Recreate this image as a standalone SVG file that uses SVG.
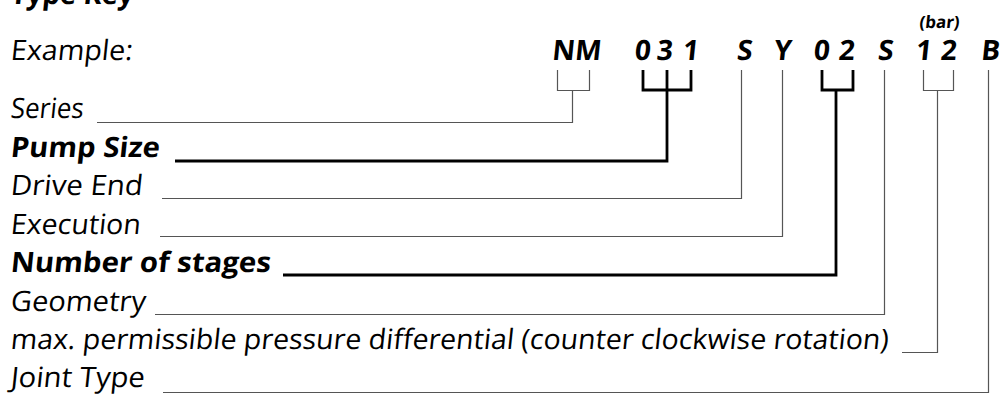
<svg xmlns="http://www.w3.org/2000/svg" width="1001" height="394" viewBox="0 0 1001 394">
<style>
text { font-family: "Open Sans", "Liberation Sans", sans-serif; font-size: 28px; fill: #000; }
.b { font-weight: bold; }
.code { font-weight: bold; text-anchor: middle; }
.unit { font-weight: bold; font-size: 17px; text-anchor: middle; }
.thin { fill: none; stroke: #555; stroke-width: 1.2; }
.thick { fill: none; stroke: #000; stroke-width: 2.8; }
</style>
<rect width="1001" height="394" fill="#fff"/>
<g id="title" transform="translate(10,4) skewX(-6)"><text class="b" textLength="123" lengthAdjust="spacingAndGlyphs">Type Key</text></g>
<g id="example" transform="translate(10,60) skewX(-6)"><text textLength="122" lengthAdjust="spacingAndGlyphs">Example:</text></g>
<g id="code">
  <g transform="translate(0,60) skewX(-6)">
    <text class="code" x="576">NM</text>
    <text class="code" x="642">0</text>
    <text class="code" x="664">3</text>
    <text class="code" x="690">1</text>
    <text class="code" x="744">S</text>
    <text class="code" x="782">Y</text>
    <text class="code" x="821">0</text>
    <text class="code" x="846">2</text>
    <text class="code" x="885">S</text>
    <text class="code" x="923">1</text>
    <text class="code" x="948">2</text>
    <text class="code" x="990">B</text>
  </g>
  <g transform="translate(939,28) skewX(-6)"><text class="unit">(bar)</text></g>
</g>
<g id="series" transform="translate(10,118) skewX(-6)"><text textLength="73" lengthAdjust="spacingAndGlyphs">Series</text></g>
<g id="pump-size" transform="translate(10,157) skewX(-6)"><text class="b" textLength="149" lengthAdjust="spacingAndGlyphs">Pump Size</text></g>
<g id="drive-end" transform="translate(10,195) skewX(-6)"><text textLength="132" lengthAdjust="spacingAndGlyphs">Drive End</text></g>
<g id="execution" transform="translate(10,234) skewX(-6)"><text textLength="130" lengthAdjust="spacingAndGlyphs">Execution</text></g>
<g id="stages" transform="translate(10,272) skewX(-6)"><text class="b" textLength="260" lengthAdjust="spacingAndGlyphs">Number of stages</text></g>
<g id="geometry" transform="translate(10,311) skewX(-6)"><text textLength="135" lengthAdjust="spacingAndGlyphs">Geometry</text></g>
<g id="pressure" transform="translate(10,349) skewX(-6)"><text textLength="878" lengthAdjust="spacingAndGlyphs">max. permissible pressure differential (counter clockwise rotation)</text></g>
<g id="joint-type" transform="translate(10,387) skewX(-6)"><text textLength="134" lengthAdjust="spacingAndGlyphs">Joint Type</text></g>
<g id="connectors">
  <path class="thin" d="M97,122.5 H572.5 V90.5"/>
  <path class="thin" d="M557.5,70 V90.5 H589.5 V70"/>
  <path class="thick" d="M175,161 H667 V70"/>
  <path class="thick" d="M643,70 V90 H691 V70"/>
  <path class="thin" d="M162,198.5 H741.5 V70"/>
  <path class="thin" d="M160,236.5 H782.5 V70"/>
  <path class="thick" d="M283,275 H836 V90"/>
  <path class="thick" d="M822,70 V90 H853 V70"/>
  <path class="thin" d="M155,314.5 H884.5 V70"/>
  <path class="thin" d="M902,352.5 H937.5 V90.5"/>
  <path class="thin" d="M923.5,70 V90.5 H953.5 V70"/>
  <path class="thin" d="M163,392.5 H988.5 V70"/>
</g>
</svg>
